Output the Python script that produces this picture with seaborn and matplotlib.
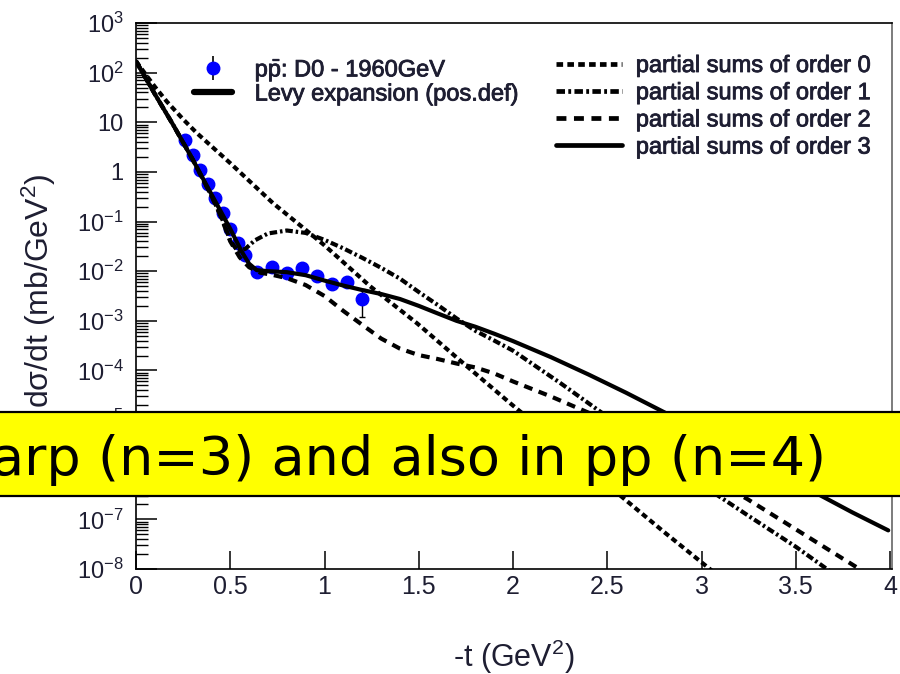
import matplotlib
matplotlib.use('Agg')
import matplotlib.pyplot as plt
import matplotlib.patheffects as pe
from matplotlib.lines import Line2D
from matplotlib.patches import Rectangle
from matplotlib.ticker import FixedLocator, LogLocator, NullFormatter
import seaborn as sns

# D0 p-pbar elastic data at 1960 GeV
t_data = [0.26, 0.30, 0.34, 0.38, 0.42, 0.46, 0.50, 0.54, 0.58, 0.64, 0.72,
          0.80, 0.88, 0.96, 1.04, 1.12, 1.20]
dsdt_data = [4.4, 2.18, 1.09, 0.57, 0.30, 0.148, 0.070, 0.037, 0.021, 0.0095,
             0.012, 0.0091, 0.0115, 0.0079, 0.0055, 0.0060, 0.0028]
dsdt_err = [0.2, 0.1, 0.05, 0.03, 0.015, 0.008, 0.004, 0.002, 0.0012, 0.0006,
            0.0007, 0.0006, 0.0007, 0.0006, 0.0005, 0.0006, 0.0016]

# partial sums of the Levy expansion
t_order0 = [0, 0.06, 0.1, 0.164, 0.25, 0.324, 0.5, 0.727, 0.881, 1.0, 1.241,
            1.491, 1.735, 1.984, 2.25, 2.584, 2.8, 3.06]
y_order0 = [170, 83, 52, 26, 11.5, 6.0, 1.5, 0.234, 0.078, 0.0331, 0.005,
            8.9e-4, 1.41e-4, 2.2e-5, 3.2e-6, 2.7e-7, 5.6e-8, 8.9e-9]

t_order1 = [0, 0.1, 0.2, 0.3, 0.4, 0.45, 0.5, 0.54, 0.58, 0.63, 0.7, 0.8, 0.9,
            1.0, 1.1, 1.2, 1.3, 1.4, 1.5, 1.6, 1.7, 1.8, 1.9, 2.0, 2.25, 2.5,
            2.75, 3.0, 3.25, 3.5, 3.7]
y_order1 = [170, 37, 8.5, 1.8, 0.33, 0.132, 0.0417, 0.0251, 0.0282, 0.0417,
            0.0575, 0.066, 0.059, 0.0427, 0.0288, 0.0186, 0.0117, 0.00708,
            0.0038, 0.00209, 0.00112, 6.3e-4, 4.0e-4, 2.5e-4, 5.6e-5, 1.17e-5,
            2.5e-6, 5.0e-7, 1.17e-7, 2.8e-8, 8.0e-9]

t_order2 = [0, 0.1, 0.2, 0.3, 0.4, 0.45, 0.5, 0.55, 0.6, 0.66, 0.72, 0.8, 0.9,
            1.0, 1.1, 1.2, 1.3, 1.4, 1.5, 1.6, 1.7, 1.8, 1.9, 2.0, 2.2, 2.4,
            2.6, 2.8, 3.0, 3.24, 3.5, 3.9]
y_order2 = [170, 37, 8.5, 1.8, 0.33, 0.126, 0.0398, 0.019, 0.012, 0.0093,
            0.0085, 0.00724, 0.00525, 0.00316, 0.00158, 8.3e-4, 4.4e-4,
            2.75e-4, 2.04e-4, 1.7e-4, 1.38e-4, 1.15e-4, 8.7e-5, 6.0e-5, 3.0e-5,
            1.41e-5, 5.8e-6, 2.2e-6, 8.3e-7, 2.6e-7, 6.3e-8, 7.1e-9]

t_order3 = [0, 0.1, 0.2, 0.3, 0.4, 0.5, 0.56, 0.6, 0.64, 0.7, 0.8, 0.9, 1.0,
            1.1, 1.2, 1.3, 1.4, 1.5, 1.6, 1.7, 1.8, 1.9, 2.0, 2.2, 2.4, 2.6,
            2.8, 3.0, 3.2, 3.4, 3.6, 3.8, 3.99]
y_order3 = [170, 37, 8.5, 1.8, 0.355, 0.071, 0.025, 0.0141, 0.0105, 0.01,
            0.00955, 0.0083, 0.00646, 0.00513, 0.00417, 0.00347, 0.00275,
            0.002, 0.00141, 0.001, 7.6e-4, 5.5e-4, 3.9e-4, 1.86e-4, 8.3e-5,
            3.55e-5, 1.45e-5, 5.8e-6, 2.2e-6, 8.7e-7, 3.5e-7, 1.38e-7, 6.0e-8]

order_labels = ['partial sums of order 0', 'partial sums of order 1',
                'partial sums of order 2', 'partial sums of order 3']

x_ticks = [0, 0.5, 1, 1.5, 2, 2.5, 3, 3.5, 4]
x_tick_labels = ['0', '0.5', '1', '1.5', '2', '2.5', '3', '3.5', '4']
y_ticks = [1e-8, 1e-7, 1e-6, 1e-5, 1e-4, 1e-3, 1e-2, 1e-1, 1, 10, 1e2, 1e3]
y_tick_labels = [r'$10^{-8}$', r'$10^{-7}$', r'$10^{-6}$', r'$10^{-5}$',
                 r'$10^{-4}$', r'$10^{-3}$', r'$10^{-2}$', r'$10^{-1}$',
                 '1', '10', r'$10^{2}$', r'$10^{3}$']

banner_text = 'arp (n=3) and also in pp (n=4)'

sns.set_theme(style='ticks')
plt.rcParams['font.family'] = ['Liberation Sans', 'DejaVu Sans']
plt.rcParams['mathtext.fontset'] = 'custom'
plt.rcParams['mathtext.rm'] = 'Liberation Sans'
plt.rcParams['mathtext.it'] = 'Liberation Sans:italic'
plt.rcParams['mathtext.bf'] = 'Liberation Sans:bold'

txt_color = '#1e1e32'
LW = 3.0
styles = [(0, (1.4, 0.9)), (0, (1.8, 0.7, 0.6, 0.7)), (0, (2.1, 1.6)), '-']

fig = plt.figure(figsize=(9, 6.74), dpi=100)
ax = fig.add_axes([136 / 900, 1 - 569 / 674, 756 / 900, 546 / 674])
ax.set_yscale('log')

# data points
ax.errorbar(t_data, dsdt_data, yerr=dsdt_err, fmt='o', color='blue', ms=9,
            mec='blue', ecolor='black', elinewidth=1.0, capsize=2.5,
            capthick=1.0, zorder=3)

curves = [(t_order0, y_order0), (t_order1, y_order1),
          (t_order2, y_order2), (t_order3, y_order3)]
for (tt, yy), ls in zip(curves, styles):
    sns.lineplot(x=tt, y=yy, ax=ax, color='black', lw=LW, linestyle=ls,
                 estimator=None, sort=False, zorder=4)

ax.set_xlim(0, 4.01)
ax.set_ylim(1e-8, 1e3)

ax.xaxis.set_major_locator(FixedLocator(x_ticks))
ax.set_xticklabels(x_tick_labels)
ax.yaxis.set_major_locator(FixedLocator(y_ticks))
ax.set_yticklabels(y_tick_labels)
ax.yaxis.set_minor_locator(LogLocator(base=10, subs=range(2, 10), numticks=100))
ax.yaxis.set_minor_formatter(NullFormatter())
ax.xaxis.set_minor_locator(FixedLocator([]))

ax.tick_params(axis='y', which='major', direction='in', length=15, width=1.1,
               color='black', pad=9, labelsize=17, labelcolor=txt_color,
               left=True, right=False)
ax.tick_params(axis='y', which='minor', direction='in', length=8.5, width=1.0,
               color='black', left=True, right=False)
ax.tick_params(axis='x', which='major', direction='in', length=13, width=1.1,
               color='black', pad=4, labelsize=18, labelcolor=txt_color,
               bottom=True, top=False)

for side in ['left', 'bottom', 'top']:
    ax.spines[side].set_color('black')
    ax.spines[side].set_linewidth(1.2)
ax.spines['right'].set_color('#666666')
ax.spines['right'].set_linewidth(1.2)

ax.set_xlabel(r'-t (GeV$^{2}$)', fontsize=22, color=txt_color)
ax.xaxis.set_label_coords(0.5, -0.125)
ax.set_ylabel(r'dσ/dt (mb/GeV$^{2}$)', fontsize=23, color=txt_color)
ax.yaxis.set_label_coords(-0.103, 0.51)

# legends
h_data = ax.errorbar([], [], yerr=[], fmt='o', color='blue', ms=9, mec='blue',
                     ecolor='black', elinewidth=1.2, capsize=0)
h_levy = Line2D([], [], color='black', lw=4.5)
leg1 = ax.legend([h_data, h_levy],
                 [r'p$\mathrm{\bar{p}}$: D0 - 1960GeV', 'Levy expansion (pos.def)'],
                 loc='upper left', bbox_to_anchor=(194 / 900, 1 - 57 / 674),
                 bbox_transform=fig.transFigure, frameon=False, fontsize=17,
                 handlelength=1.62, handletextpad=0.95, labelspacing=0.0,
                 borderpad=0, borderaxespad=0, labelcolor=txt_color)
ax.add_artist(leg1)

order_handles = [Line2D([], [], color='black', lw=3.4, linestyle=ls) for ls in styles]
leg2 = ax.legend(order_handles, order_labels, loc='upper left',
                 bbox_to_anchor=(556 / 900, 1 - 55 / 674),
                 bbox_transform=fig.transFigure, frameon=False, fontsize=17,
                 handlelength=2.8, handletextpad=0.58, labelspacing=0.22,
                 borderpad=0, borderaxespad=0, labelcolor=txt_color)
for leg in (leg1, leg2):
    for txt in leg.get_texts():
        txt.set_path_effects([pe.withStroke(linewidth=0.6, foreground=txt_color)])

# yellow banner across the slide
fig.add_artist(Rectangle((-0.02, 1 - 496 / 674), 1.04, 84 / 674,
                         facecolor='#ffff00', edgecolor='black', lw=1.6,
                         zorder=10))
fig.text(826 / 900, 1 - 475 / 674, banner_text, ha='right', va='baseline',
         fontsize=39, family='DejaVu Sans', color='black', zorder=11)

fig.savefig('out.png', dpi=100, facecolor='white')
